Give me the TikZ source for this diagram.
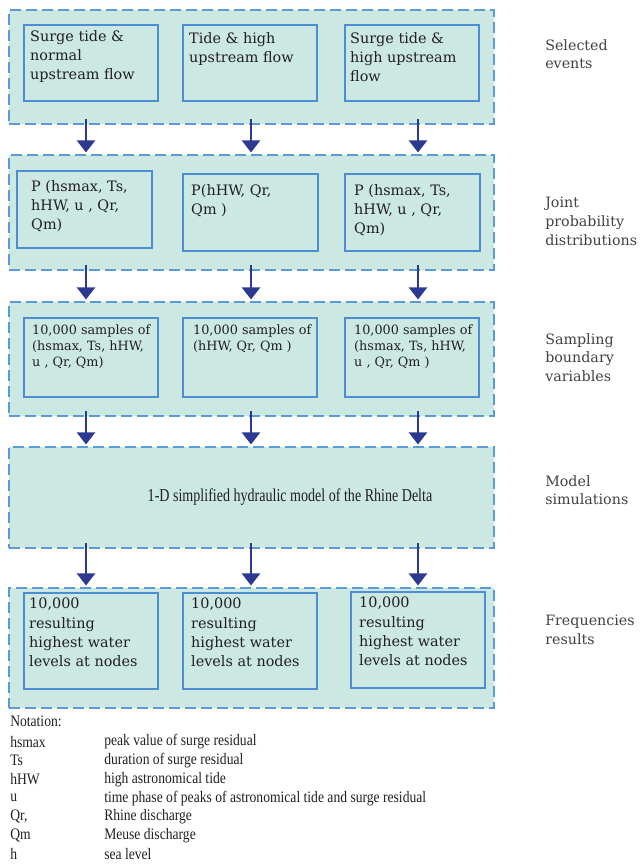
\documentclass[tikz,border=0pt]{standalone}
\usepackage{fontspec}
\setmainfont{DejaVu Serif}
\newfontfamily\timesfont[FakeStretch=0.85]{Liberation Serif}
\newfontfamily\narrowfont[FakeStretch=0.775]{Liberation Serif}
\usetikzlibrary{arrows.meta,positioning,fit}
\definecolor{PanelFill}{HTML}{CBE8E3}
\definecolor{PanelEdge}{HTML}{5B9BD5}
\definecolor{BoxEdge}{HTML}{4D8ED3}
\definecolor{Flow}{HTML}{2B3990}
\definecolor{Ink}{HTML}{231F20}
\tikzset{
  panel/.style={draw=PanelEdge,fill=PanelFill,line width=1.8pt,dash pattern=on 8pt off 4pt,inner sep=0pt},
  ibox/.style={draw=BoxEdge,line width=1.6pt,inner sep=0pt},
  btxt/.style={anchor=north west,align=left,inner sep=0pt,text=Ink,font=\fontsize{10.8}{14.4}\selectfont},
  stxt/.style={btxt,font=\fontsize{9.6}{12}\selectfont},
  side/.style={anchor=north west,align=left,inner sep=0pt,text=Ink!85,font=\fontsize{10.7}{14}\selectfont},
  note/.style={anchor=west,inner sep=0pt,text=Ink,font=\timesfont\fontsize{12}{14}\selectfont},
  flow/.style={Flow,line width=1.7pt,-{Triangle[width=13.5pt,length=9pt]}}
}

\begin{document}
\begin{tikzpicture}[x=0.75pt,y=-0.75pt]
\useasboundingbox (0,0) rectangle (642,864);
% stages
\node[panel,fit={(9,10) (494,124)}] (p1) {};
\node[panel,fit={(9,155) (494,270)}] (p2) {};
\node[panel,fit={(9,302) (494,416)}] (p3) {};
\node[panel,fit={(9,447) (494,548)}] (p4) {};
\node[panel,fit={(9,588) (494,708)}] (p5) {};
\foreach \c/\x in {1/24,2/183,3/345}
  \node[ibox,fit={(\x,25) (\x+134,101)}] (e\c) {};
\foreach \c/\x/\y in {1/17/171,2/183/174,3/345/174}
  \node[ibox,fit={(\x,\y) (\x+135,\y+77)}] (j\c) {};
\foreach \c/\x in {1/24,2/183,3/345}
  \node[ibox,fit={(\x,318) (\x+134,397)}] (s\c) {};
\foreach \c/\x/\y in {1/24/593,2/183/593,3/351/592}
  \node[ibox,fit={(\x,\y) (\x+134,\y+96)}] (f\c) {};

\node[btxt] (e1t) at ([shift={(7,6)}]e1.north west) {Surge tide \&\\normal\\upstream flow};
\node[btxt] (e2t) at ([shift={(7,8)}]e2.north west) {Tide \& high\\upstream flow};
\node[btxt] (e3t) at ([shift={(6,8)}]e3.north west) {Surge tide \&\\high upstream\\flow};
\node[btxt] (j1t) at ([shift={(15,10)}]j1.north west) {P (hsmax, Ts,\\hHW, u , Qr,\\Qm)};
\node[btxt] (j2t) at ([shift={(9,11)}]j2.north west) {P(hHW, Qr,\\Qm )};
\node[btxt] (j3t) at ([shift={(10,11)}]j3.north west) {P (hsmax, Ts,\\hHW, u , Qr,\\Qm)};
\node[stxt] (s1t) at ([shift={(9,8)}]s1.north west) {10,000 samples of\\(hsmax, Ts, hHW,\\u , Qr, Qm)};
\node[stxt] (s2t) at ([shift={(11,8)}]s2.north west) {10,000 samples of\\(hHW, Qr, Qm )};
\node[stxt] (s3t) at ([shift={(10,8)}]s3.north west) {10,000 samples of\\(hsmax, Ts, hHW,\\u , Qr, Qm )};
\node[font=\narrowfont\fontsize{13.6}{15}\selectfont,text=Ink] (m) at (290,497) {1-D simplified hydraulic model of the Rhine Delta};
\foreach \c/\dx in {1/6,2/9,3/9}
  \node[btxt] (f\c t) at ([shift={(\dx,6)}]f\c.north west) {10,000\\resulting\\highest water\\levels at nodes};

% flow between stages
\foreach \x [count=\c] in {86,251,418}
  \coordinate (a\c) at (\x,0);
\foreach \u/\v in {p1/p2,p2/p3,p3/p4,p4/p5}
  \foreach \c in {1,2,3}
    \draw[flow] ([yshift=4.5pt]\u.south -| a\c) -- ([yshift=1pt]\v.north -| a\c);

% stage names
\node[side] (l1) at (545,39) {Selected\\events};
\node[side] (l2) at (545,197) {Joint\\probability\\distributions};
\node[side] (l3) at (545,333) {Sampling\\boundary\\variables};
\node[side] (l4) at (545,475) {Model\\simulations};
\node[side] (l5) at (545,615) {Frequencies\\results};

% notation
\node[note] (nt) at (10,721) {Notation:};
\foreach \sym/\txt [count=\i] in {hsmax/peak value of surge residual,Ts/duration of surge residual,hHW/high astronomical tide,u/time phase of peaks of astronomical tide and surge residual,{Qr,}/Rhine discharge,Qm/Meuse discharge,h/sea level}{
  \node[note] (n\i) at (10,723.3+18.7*\i) {\sym};
  \node[note] (d\i) at (104,723.3+18.7*\i) {\txt};
}
\end{tikzpicture}
\end{document}
